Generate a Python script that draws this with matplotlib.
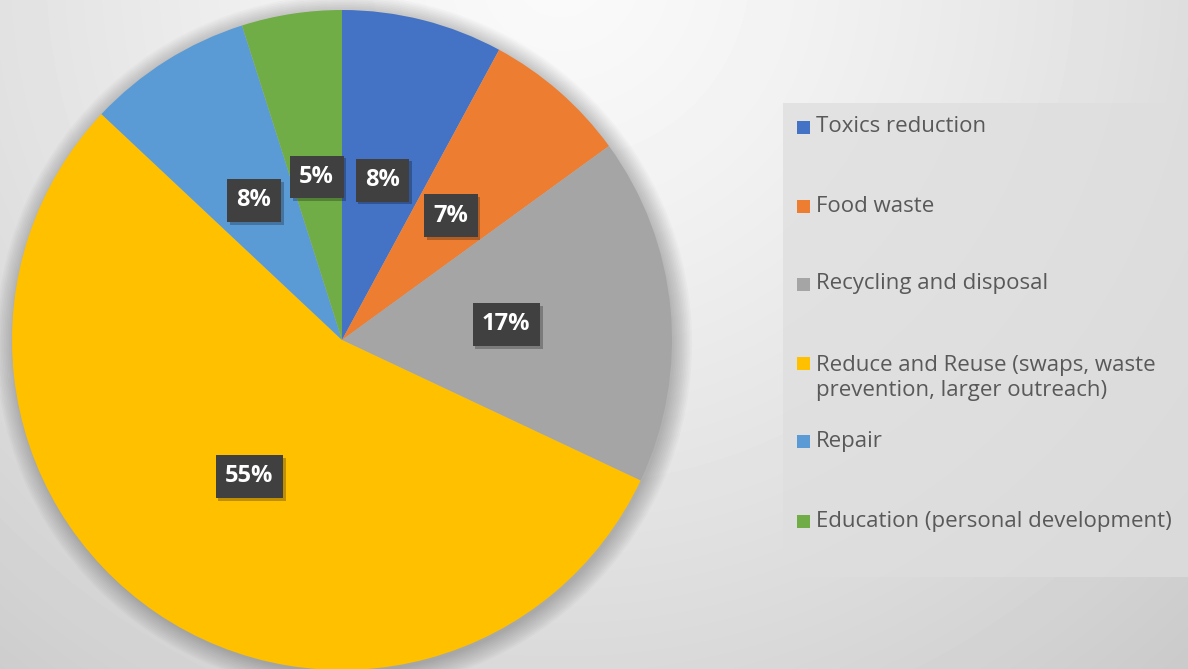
import numpy as np
import matplotlib
matplotlib.use("Agg")
import matplotlib.pyplot as plt
import matplotlib.patheffects as pe
from matplotlib.patches import Rectangle, Circle

# data (share of total, %)
categories = ["Toxics reduction", "Food waste", "Recycling and disposal",
              "Reduce and Reuse (swaps, waste\nprevention, larger outreach)",
              "Repair", "Education (personal development)"]
shares = [7.9, 7.1, 17.0, 55.0, 8.1, 4.9]
colors = ["#4472C4", "#ED7D31", "#A5A5A5", "#FFC000", "#5B9BD5", "#70AD47"]

plt.rcParams['font.family'] = ['Open Sans', 'DejaVu Sans']

W, H = 1188, 669
fig = plt.figure(figsize=(W / 100, H / 100), dpi=100)

# grey radial background
bg = fig.add_axes([0, 0, 1, 1])
yy, xx = np.mgrid[0:H, 0:W]
d = np.hypot(xx - 560, yy + 30) / 1000
v = (250 - 52 * d ** 1.3) / 255
bg.imshow(v, cmap='gray', vmin=0, vmax=1, extent=[0, W, H, 0], aspect='auto',
          interpolation='bilinear')
bg.set_xlim(0, W)
bg.set_ylim(H, 0)
bg.axis('off')

# legend panel
bg.add_patch(Rectangle((783, 103), 420, 474, facecolor='#dedede', alpha=0.75,
                       edgecolor='none'))

# pie
cx, cy, r = 342, 340, 330
ax = fig.add_axes([(cx - r) / W, 1 - (cy + r) / H, 2 * r / W, 2 * r / H])
# soft shadow around the pie
for k in range(12):
    ax.add_patch(Circle((0.006, -0.01), 1.0 + 0.005 * k, facecolor='black',
                        alpha=0.02, edgecolor='none', zorder=0, clip_on=False))
wedges, texts, autotexts = ax.pie(
    shares, colors=colors, startangle=90, counterclock=False,
    autopct=lambda p: f"{p:.0f}%", pctdistance=0.5, radius=1.0,
    wedgeprops=dict(linewidth=0),
    textprops=dict(color='white', fontsize=17, fontweight='bold'))
for w in wedges:
    w.set_zorder(2)
for t in autotexts:
    t.set_zorder(5)
    t.set_bbox(dict(boxstyle='square,pad=0.4', facecolor='#404040',
                    edgecolor='none'))
    t.get_bbox_patch().set_path_effects(
        [pe.withSimplePatchShadow(offset=(2, -2), shadow_rgbFace='black', alpha=0.25)])
ax.set_xlim(-1, 1)
ax.set_ylim(-1, 1)
ax.set_aspect('auto')
ax.axis('off')

# legend entries
rows = [127, 206, 284, 378, 441, 521]
for y, lab, c in zip(rows, categories, colors):
    first = y - 15 if '\n' in lab else y
    bg.add_patch(Rectangle((797, first - 6), 13, 13, facecolor=c, edgecolor='none'))
    bg.text(816, y, lab, fontsize=16, color='#595959', va='center', ha='left',
            linespacing=1.2)

fig.savefig('out.png', dpi=100)
plt.close()
